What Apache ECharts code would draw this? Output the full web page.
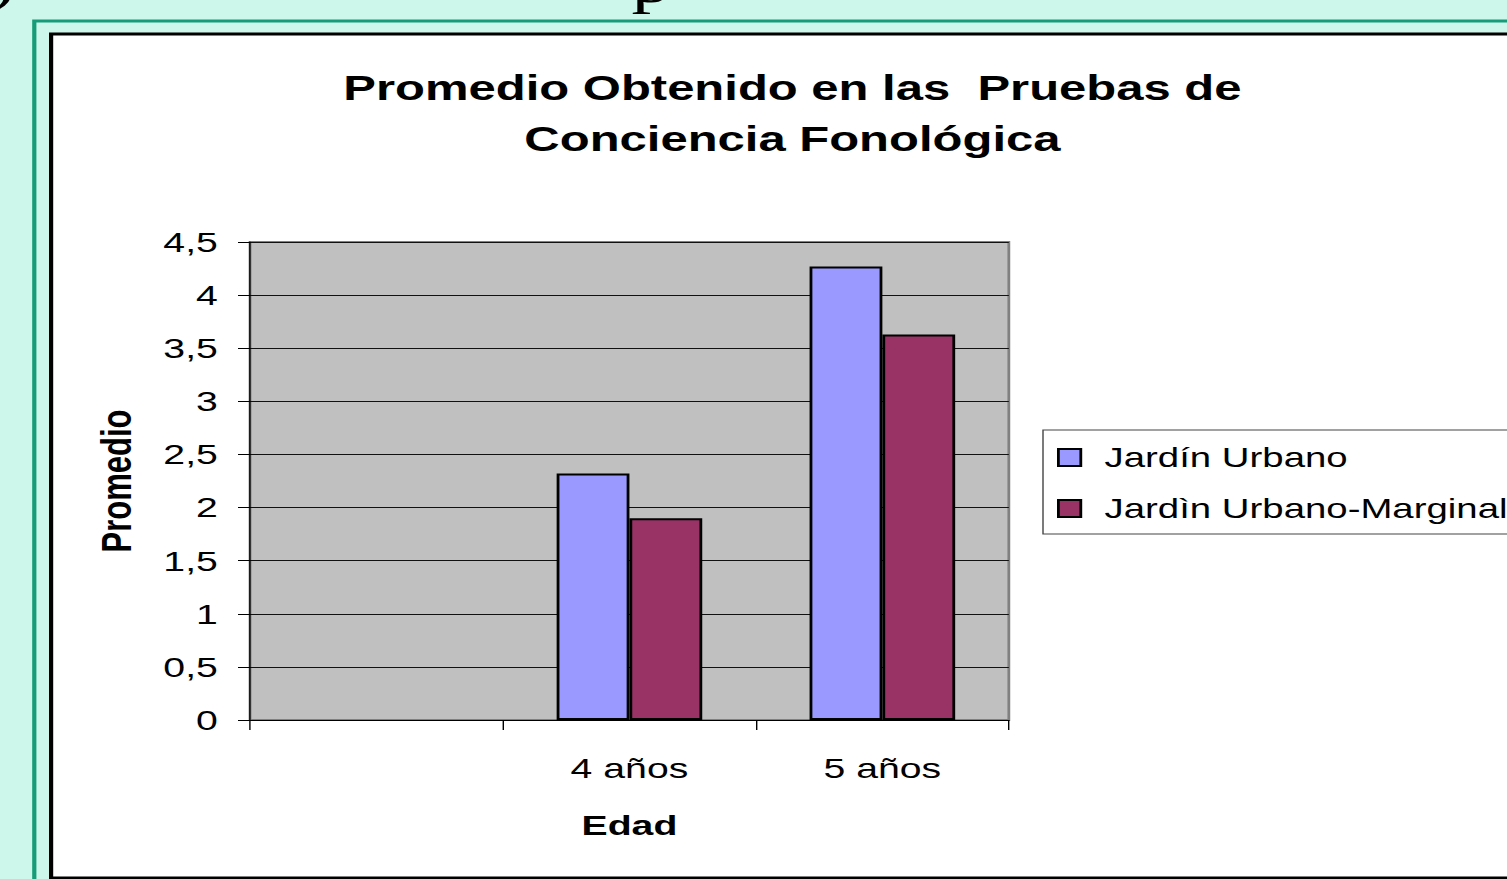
<!DOCTYPE html>
<html>
<head>
<meta charset="utf-8">
<title>Promedio Obtenido en las Pruebas de Conciencia Fonológica</title>
<script src="https://cdn.jsdelivr.net/npm/echarts@6/dist/echarts.min.js"></script>
<style>
  html, body { margin: 0; padding: 0; background: #ccf7ea; overflow: hidden; }
  /* el gráfico original está estirado en horizontal (~1.4x) */
  #chart { width: 1077px; height: 879px; transform: scaleX(1.4); transform-origin: 0 0; }
</style>
</head>
<body>
<div id="chart"></div>
<script>
// datos
const categories = ['', '4 años', '5 años']
const seriesNames = ['Jardín Urbano', 'Jardìn Urbano-Marginal']
const urbano = [null, 2.32, 4.27]
const urbanoMarginal = [null, 1.9, 3.63]
const yTicks = [0, 0.5, 1, 1.5, 2, 2.5, 3, 3.5, 4, 4.5]

const font = '"Liberation Sans", Arial, sans-serif'
const chart = echarts.init(document.getElementById('chart'), null, { renderer: 'svg' })

const option = {
  backgroundColor: '#ccf7ea',
  animation: false,
  graphic: [
    // restos del texto de la diapositiva (cortados arriba)
    { type: 'text', x: -7, y: -47, z: 1, style: { text: ')', font: '56px "Liberation Serif", serif', fill: '#000' } },
    { type: 'text', x: 451, y: -45, z: 1, style: { text: 'p', font: '56px "Liberation Serif", serif', fill: '#000' } },
    // marco verde
    { type: 'rect', z: -10, shape: { x: 24.5, y: 21, width: 1200, height: 1000 }, style: { fill: null, stroke: '#169c78', lineWidth: 3 } },
    // área blanca del gráfico
    { type: 'rect', z: -10, shape: { x: 36.5, y: 34, width: 1200, height: 844 }, style: { fill: '#fff', stroke: '#000', lineWidth: 3 } },
    // título
    {
      type: 'text', x: 566, y: 113.5, z: 2,
      style: {
        text: 'Promedio Obtenido en las  Pruebas de\nConciencia Fonológica',
        font: 'bold 35px ' + font, fill: '#000',
        align: 'center', verticalAlign: 'middle', lineHeight: 51
      }
    }
  ],
  grid: {
    left: 178.6, top: 242, right: 356.4, bottom: 159,
    show: true, backgroundColor: '#c0c0c0', borderColor: '#808080', borderWidth: 2
  },
  legend: {
    orient: 'vertical',
    left: 745, top: 430,
    padding: [14, 60, 12, 10],
    itemGap: 24,
    itemWidth: 16, itemHeight: 17,
    backgroundColor: '#fff', borderColor: '#444', borderWidth: 1,
    icon: 'rect',
    data: seriesNames,
    textStyle: { fontFamily: font, fontSize: 27.4, color: '#000', padding: [0, 0, 0, 12] }
  },
  xAxis: {
    type: 'category',
    data: categories,
    boundaryGap: true,
    name: 'Edad',
    nameLocation: 'middle',
    nameGap: 91,
    nameTextStyle: { fontFamily: font, fontSize: 28, fontWeight: 'bold', color: '#000' },
    axisLine: { lineStyle: { color: '#000', width: 1 } },
    axisTick: { show: true, interval: 0, length: 10, lineStyle: { color: '#000' } },
    axisLabel: { interval: 0, margin: 34, fontFamily: font, fontSize: 28, color: '#000' }
  },
  yAxis: {
    type: 'value',
    min: yTicks[0], max: yTicks[yTicks.length - 1], interval: 0.5,
    name: 'Promedio',
    nameLocation: 'middle',
    nameGap: 80,
    nameTextStyle: { fontFamily: font, fontSize: 31, fontWeight: 'bold', color: '#000' },
    axisLine: { show: true, lineStyle: { color: '#000', width: 1 } },
    axisTick: { show: true, length: 8.6, lineStyle: { color: '#000' } },
    splitLine: { lineStyle: { color: '#111', width: 1 } },
    axisLabel: {
      margin: 23, fontFamily: font, fontSize: 28, color: '#000',
      formatter: (v) => String(v).replace('.', ',')
    }
  },
  series: [
    {
      name: seriesNames[0], type: 'bar', data: urbano,
      barWidth: 52, barGap: '0%',
      itemStyle: { color: '#9999ff', borderColor: '#000', borderWidth: 2 }
    },
    {
      name: seriesNames[1], type: 'bar', data: urbanoMarginal,
      barWidth: 52,
      itemStyle: { color: '#993366', borderColor: '#000', borderWidth: 2 }
    }
  ]
}
chart.setOption(option)
</script>
</body>
</html>
